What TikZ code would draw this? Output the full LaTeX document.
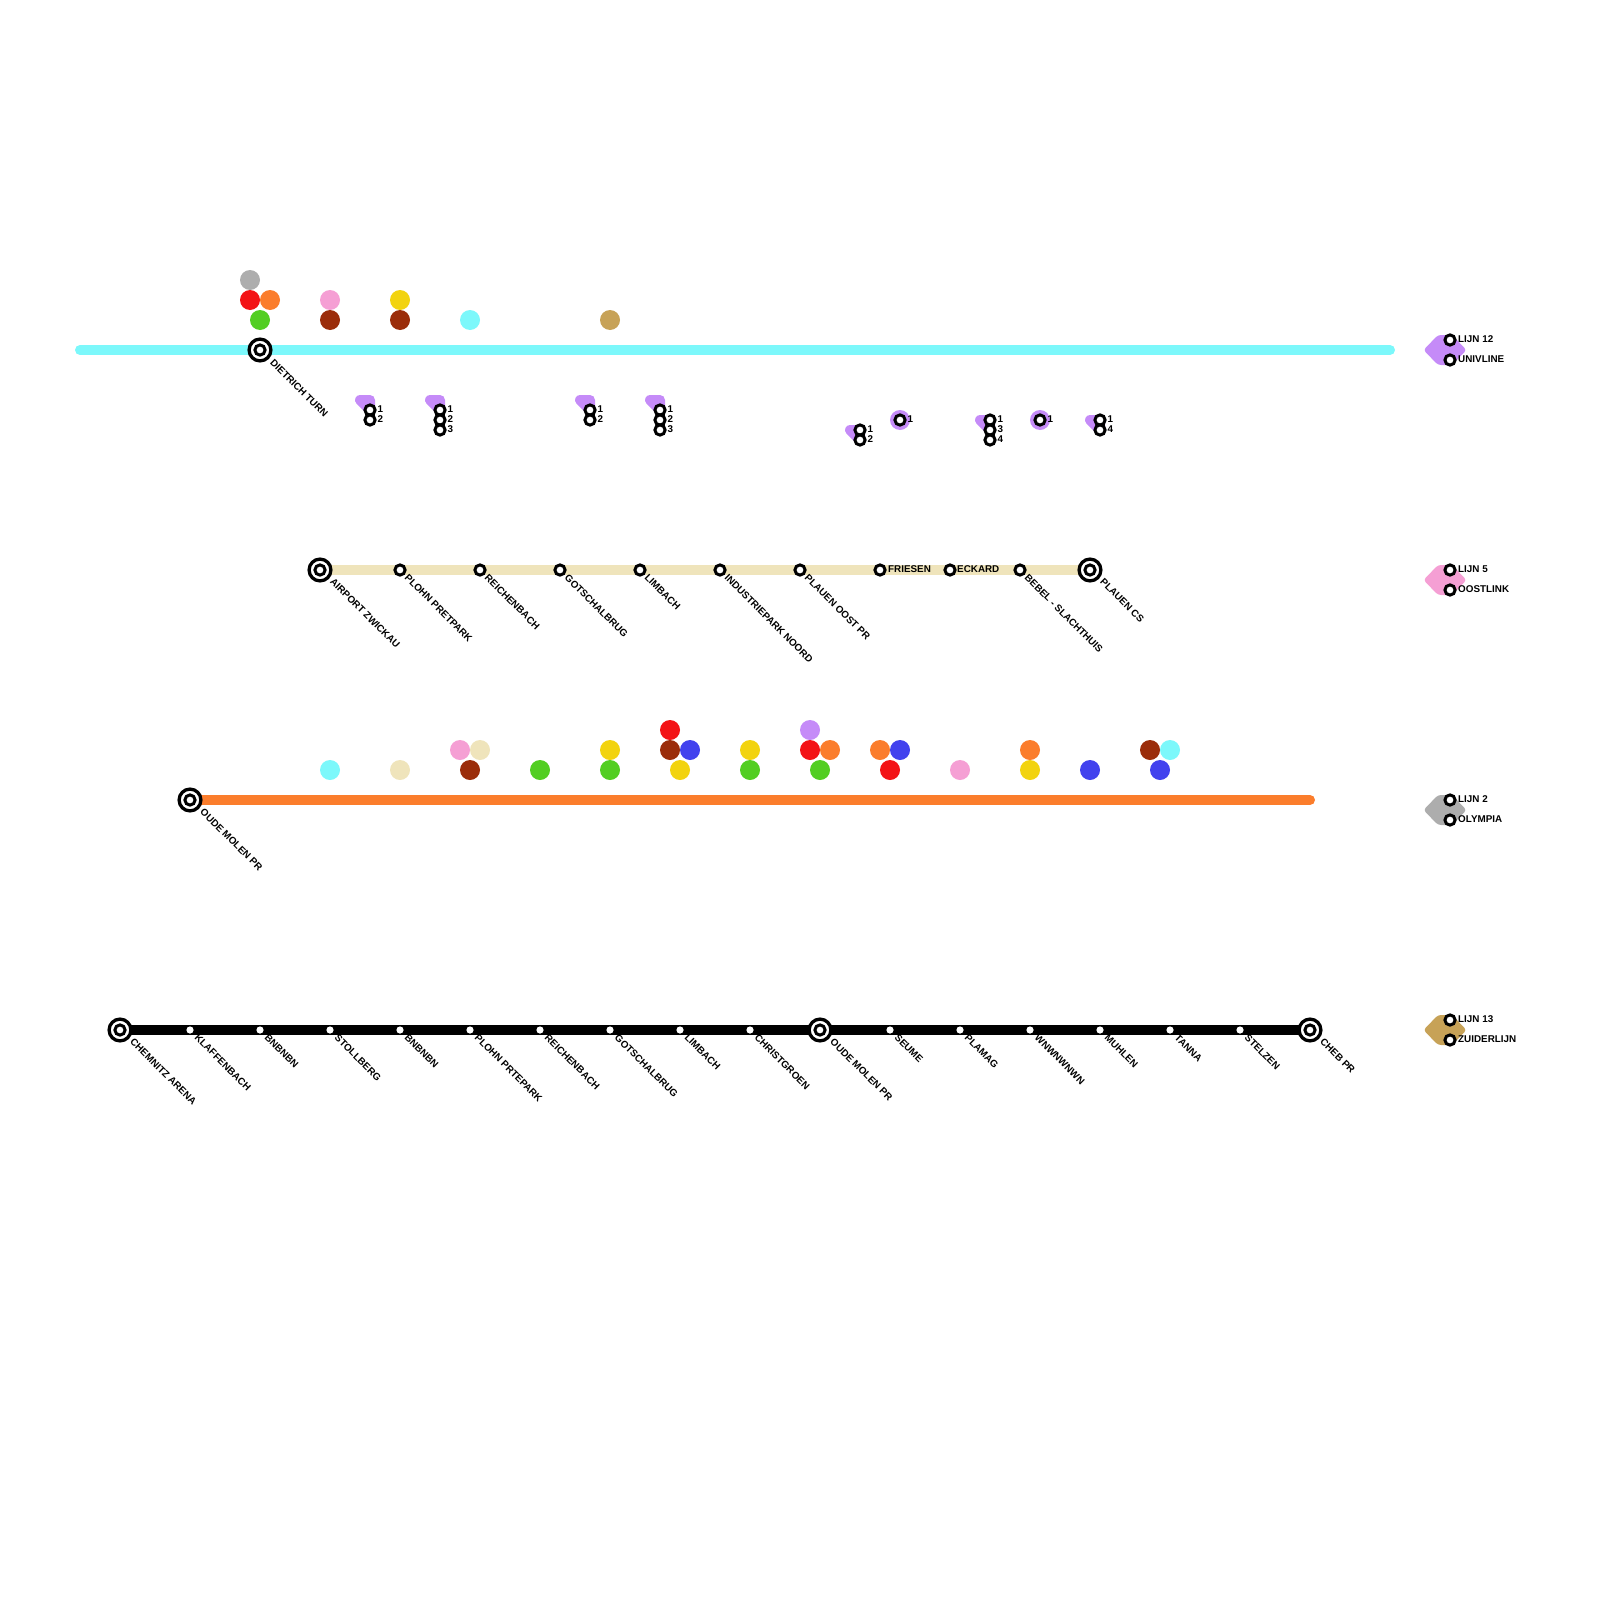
\documentclass[tikz,border=0pt]{standalone}
\usepackage{fontspec}
\setmainfont{Liberation Sans}
\usepackage{xcolor}
\usetikzlibrary{backgrounds}
\definecolor{lcyan}{HTML}{7CF8FB}
\definecolor{lbeige}{HTML}{EFE4BB}
\definecolor{lorange}{HTML}{FB7D2C}
\definecolor{lred}{HTML}{F31316}
\definecolor{lgreen}{HTML}{52CE22}
\definecolor{lgray}{HTML}{ADADAD}
\definecolor{lpink}{HTML}{F59FD4}
\definecolor{lbrown}{HTML}{9B2D0A}
\definecolor{lyellow}{HTML}{F2D30F}
\definecolor{ltan}{HTML}{C7A257}
\definecolor{lpurple}{HTML}{C58BF8}
\definecolor{lblue}{HTML}{4242EE}

\begin{document}
\begin{tikzpicture}[x=1pt,y=-1pt,every node/.style={font=\fontsize{9.85}{12}\selectfont\bfseries}]
      \tikzstyle{s}=[circle,draw=black,line width=3pt,minimum size=10.2pt,inner sep=0pt,fill=white];
      \tikzstyle{w}=[circle,minimum size=7.2pt,inner sep=0pt,fill=white];
      \tikzstyle{t}=[circle,draw=black,line width=3.3pt,minimum size=21.8pt,inner sep=0pt,fill=white];
      \tikzstyle{b}=[circle,minimum size=20pt,inner sep=0pt];
      \tikzstyle{lab}=[anchor=west,inner sep=0pt,text height=7pt,text depth=0pt,rotate=-45];
      \tikzstyle{hlab}=[anchor=west,inner sep=0pt,text height=7pt,text depth=0pt];
      \tikzstyle{hull}=[line width=10pt,line join=round];
      \tikzstyle{hex}=[rounded corners=3pt];
      \tikzstyle{route}=[line width=10pt,line cap=round];
      \useasboundingbox (0,0) rectangle (1600,1600);

      \filldraw[hull,lpurple] (360,400)--(370,400)--(370,410)--cycle;
      \filldraw[hull,lpurple] (430,400)--(440,400)--(440,410)--cycle;
      \filldraw[hull,lpurple] (580,400)--(590,400)--(590,410)--cycle;
      \filldraw[hull,lpurple] (650,400)--(660,400)--(660,410)--cycle;
      \filldraw[hull,lpurple] (850,430)--(860,430)--(860,440)--cycle;
      \filldraw[hull,lpurple] (980,420)--(990,420)--(990,430)--cycle;
      \filldraw[hull,lpurple] (1090,420)--(1100,420)--(1100,430)--cycle;
      \fill[lpurple] (900,420) circle (10);
      \fill[lpurple] (1040,420) circle (10);
      \fill[hex,lpurple] (1423.5,350)--(1438,335)--(1452,335)--(1466.5,350)--(1452,365)--(1438,365)--cycle;
      \fill[hex,lpink]   (1423.5,580)--(1438,565)--(1452,565)--(1466.5,580)--(1452,595)--(1438,595)--cycle;
      \fill[hex,lgray]   (1423.5,810)--(1438,795)--(1452,795)--(1466.5,810)--(1452,825)--(1438,825)--cycle;
      \fill[hex,ltan]    (1423.5,1030)--(1438,1015)--(1452,1015)--(1466.5,1030)--(1452,1045)--(1438,1045)--cycle;

      \node[b,fill=lgray]   (u1) at (250,280) {};
      \node[b,fill=lred]    (u2) at (250,300) {};
      \node[b,fill=lorange] (u3) at (270,300) {};
      \node[b,fill=lgreen]  (u4) at (260,320) {};
      \node[b,fill=lpink]   (u5) at (330,300) {};
      \node[b,fill=lbrown]  (u6) at (330,320) {};
      \node[b,fill=lyellow] (u7) at (400,300) {};
      \node[b,fill=lbrown]  (u8) at (400,320) {};
      \node[b,fill=lcyan]   (u9) at (470,320) {};
      \node[b,fill=ltan]    (u10) at (610,320) {};

      \node[b,fill=lcyan]   (v1) at (330,770) {};
      \node[b,fill=lbeige]  (v2) at (400,770) {};
      \node[b,fill=lpink]   (v3) at (460,750) {};
      \node[b,fill=lbeige]  (v4) at (480,750) {};
      \node[b,fill=lbrown]  (v5) at (470,770) {};
      \node[b,fill=lgreen]  (v6) at (540,770) {};
      \node[b,fill=lyellow] (v7) at (610,750) {};
      \node[b,fill=lgreen]  (v8) at (610,770) {};
      \node[b,fill=lred]    (v9) at (670,730) {};
      \node[b,fill=lbrown]  (v10) at (670,750) {};
      \node[b,fill=lblue]   (v11) at (690,750) {};
      \node[b,fill=lyellow] (v12) at (680,770) {};
      \node[b,fill=lyellow] (v13) at (750,750) {};
      \node[b,fill=lgreen]  (v14) at (750,770) {};
      \node[b,fill=lpurple] (v15) at (810,730) {};
      \node[b,fill=lred]    (v16) at (810,750) {};
      \node[b,fill=lorange] (v17) at (830,750) {};
      \node[b,fill=lgreen]  (v18) at (820,770) {};
      \node[b,fill=lorange] (v19) at (880,750) {};
      \node[b,fill=lblue]   (v20) at (900,750) {};
      \node[b,fill=lred]    (v21) at (890,770) {};
      \node[b,fill=lpink]   (v22) at (960,770) {};
      \node[b,fill=lorange] (v23) at (1030,750) {};
      \node[b,fill=lyellow] (v24) at (1030,770) {};
      \node[b,fill=lblue]   (v25) at (1090,770) {};
      \node[b,fill=lbrown]  (v26) at (1150,750) {};
      \node[b,fill=lcyan]   (v27) at (1170,750) {};
      \node[b,fill=lblue]   (v28) at (1160,770) {};

      \coordinate (ca) at (80,350);
      \coordinate (cb) at (1390,350);
      \node[t] (c1) at (260,350) {};
      \node[s] (c1i) at (c1) {};
      \node[lab] (c1t) at (272,361) {DIETRICH TURN};

      \node[s] (g1) at (370,410) {}; \node[s] (g2) at (370,420) {};
      \node[hlab] (g1t) at (377.5,409) {1}; \node[hlab] (g2t) at (377.5,419) {2};
      \node[s] (h1) at (440,410) {}; \node[s] (h2) at (440,420) {}; \node[s] (h3) at (440,430) {};
      \node[hlab] (h1t) at (447.5,409) {1}; \node[hlab] (h2t) at (447.5,419) {2}; \node[hlab] (h3t) at (447.5,429) {3};
      \node[s] (i1) at (590,410) {}; \node[s] (i2) at (590,420) {};
      \node[hlab] (i1t) at (597.5,409) {1}; \node[hlab] (i2t) at (597.5,419) {2};
      \node[s] (j1) at (660,410) {}; \node[s] (j2) at (660,420) {}; \node[s] (j3) at (660,430) {};
      \node[hlab] (j1t) at (667.5,409) {1}; \node[hlab] (j2t) at (667.5,419) {2}; \node[hlab] (j3t) at (667.5,429) {3};
      \node[s] (k1) at (860,430) {}; \node[s] (k2) at (860,440) {};
      \node[hlab] (k1t) at (867.5,429) {1}; \node[hlab] (k2t) at (867.5,439) {2};
      \node[s] (l1) at (900,420) {};
      \node[hlab] (l1t) at (907.5,419) {1};
      \node[s] (m1) at (990,420) {}; \node[s] (m2) at (990,430) {}; \node[s] (m3) at (990,440) {};
      \node[hlab] (m1t) at (997.5,419) {1}; \node[hlab] (m2t) at (997.5,429) {3}; \node[hlab] (m3t) at (997.5,439) {4};
      \node[s] (n1) at (1040,420) {};
      \node[hlab] (n1t) at (1047.5,419) {1};
      \node[s] (o1) at (1100,420) {}; \node[s] (o2) at (1100,430) {};
      \node[hlab] (o1t) at (1107.5,419) {1}; \node[hlab] (o2t) at (1107.5,429) {4};

      \node[t] (a0) at (320,570) {};
      \node[s] (a0i) at (a0) {};
      \node[s] (a1) at (400,570) {};
      \node[s] (a2) at (480,570) {};
      \node[s] (a3) at (560,570) {};
      \node[s] (a4) at (640,570) {};
      \node[s] (a5) at (720,570) {};
      \node[s] (a6) at (800,570) {};
      \node[s] (a7) at (880,570) {};
      \node[s] (a8) at (950,570) {};
      \node[s] (a9) at (1020,570) {};
      \node[t] (a10) at (1090,570) {};
      \node[s] (a10i) at (a10) {};
      \node[lab] (a0t) at (332,580) {AIRPORT ZWICKAU};
      \node[lab] (a1t) at (406.5,576) {PLOHN PRETPARK};
      \node[lab] (a2t) at (486.5,576) {REICHENBACH};
      \node[lab] (a3t) at (566.5,576) {GOTSCHALBRUG};
      \node[lab] (a4t) at (646.5,576) {LIMBACH};
      \node[lab] (a5t) at (726.5,576) {INDUSTRIEPARK NOORD};
      \node[lab] (a6t) at (806.5,576) {PLAUEN OOST PR};
      \node[hlab] (a7t) at (888,569) {FRIESEN};
      \node[hlab] (a8t) at (957,569) {ECKARD};
      \node[lab] (a9t) at (1026.5,576) {BEBEL - SLACHTHUIS};
      \node[lab] (a10t) at (1102,580) {PLAUEN CS};

      \coordinate (eb) at (1310,800);
      \node[t] (e0) at (190,800) {};
      \node[s] (e0i) at (e0) {};
      \node[lab] (e0t) at (202,810) {OUDE MOLEN PR};

      \node[t] (d0) at (120,1030) {};
      \node[s] (d0i) at (d0) {};
      \node[w] (d1) at (190,1030) {};
      \node[w] (d2) at (260,1030) {};
      \node[w] (d3) at (330,1030) {};
      \node[w] (d4) at (400,1030) {};
      \node[w] (d5) at (470,1030) {};
      \node[w] (d6) at (540,1030) {};
      \node[w] (d7) at (610,1030) {};
      \node[w] (d8) at (680,1030) {};
      \node[w] (d9) at (750,1030) {};
      \node[t] (d10) at (820,1030) {};
      \node[s] (d10i) at (d10) {};
      \node[w] (d11) at (890,1030) {};
      \node[w] (d12) at (960,1030) {};
      \node[w] (d13) at (1030,1030) {};
      \node[w] (d14) at (1100,1030) {};
      \node[w] (d15) at (1170,1030) {};
      \node[w] (d16) at (1240,1030) {};
      \node[t] (d17) at (1310,1030) {};
      \node[s] (d17i) at (d17) {};
      \node[lab] (d0t) at (132,1040) {CHEMNITZ ARENA};
      \node[lab] (d1t) at (196.5,1036) {KLAFFENBACH};
      \node[lab] (d2t) at (266.5,1036) {BNBNBN};
      \node[lab] (d3t) at (336.5,1036) {STOLLBERG};
      \node[lab] (d4t) at (406.5,1036) {BNBNBN};
      \node[lab] (d5t) at (476.5,1036) {PLOHN PRTEPARK};
      \node[lab] (d6t) at (546.5,1036) {REICHENBACH};
      \node[lab] (d7t) at (616.5,1036) {GOTSCHALBRUG};
      \node[lab] (d8t) at (686.5,1036) {LIMBACH};
      \node[lab] (d9t) at (756.5,1036) {CHRISTGROEN};
      \node[lab] (d10t) at (832,1040) {OUDE MOLEN PR};
      \node[lab] (d11t) at (896.5,1036) {SEUME};
      \node[lab] (d12t) at (966.5,1036) {PLAMAG};
      \node[lab] (d13t) at (1036.5,1036) {WNWNWNWN};
      \node[lab] (d14t) at (1106.5,1036) {MUHLEN};
      \node[lab] (d15t) at (1176.5,1036) {TANNA};
      \node[lab] (d16t) at (1246.5,1036) {STELZEN};
      \node[lab] (d17t) at (1322,1040) {CHEB PR};

      \node[s] (p1) at (1450,340) {}; \node[s] (p2) at (1450,360) {};
      \node[hlab] (p1t) at (1458,339) {LIJN 12}; \node[hlab] (p2t) at (1458,359) {UNIVLINE};
      \node[s] (q1) at (1450,570) {}; \node[s] (q2) at (1450,590) {};
      \node[hlab] (q1t) at (1458,569) {LIJN 5}; \node[hlab] (q2t) at (1458,589) {OOSTLINK};
      \node[s] (r1) at (1450,800) {}; \node[s] (r2) at (1450,820) {};
      \node[hlab] (r1t) at (1458,799) {LIJN 2}; \node[hlab] (r2t) at (1458,819) {OLYMPIA};
      \node[s] (z1) at (1450,1020) {}; \node[s] (z2) at (1450,1040) {};
      \node[hlab] (z1t) at (1458,1019) {LIJN 13}; \node[hlab] (z2t) at (1458,1039) {ZUIDERLIJN};

      \begin{scope}[on background layer]
        \draw[route,lcyan]   (ca)--(cb);
        \draw[route,lbeige]  (a0.center)--(a10.center);
        \draw[route,lorange] (e0.center)--(eb);
        \draw[route,black]   (d0.center)--(d17.center);
      \end{scope}
    \end{tikzpicture}
\end{document}
